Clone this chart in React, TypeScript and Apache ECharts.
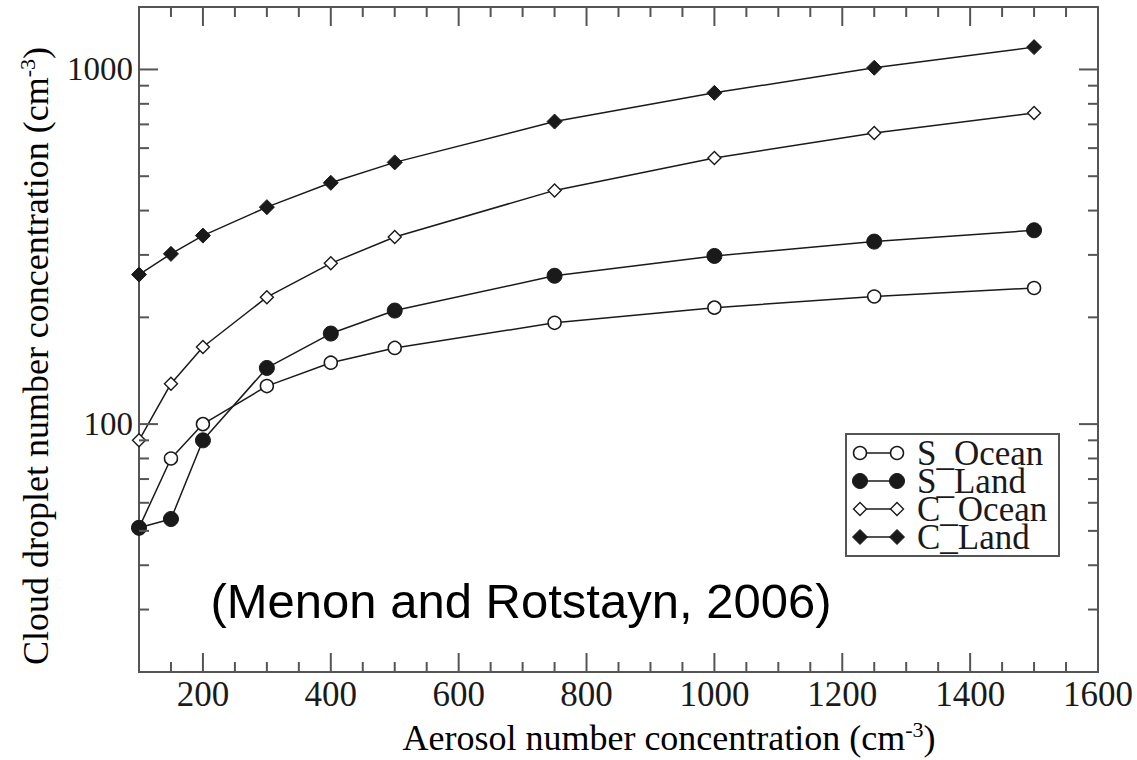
import React, { useEffect, useRef } from "react";
import * as echarts from "echarts";

const xValues = [100, 150, 200, 300, 400, 500, 750, 1000, 1250, 1500];
const sOcean = [51, 80, 100, 128, 149, 164, 193, 213, 229, 242];
const sLand = [51, 54, 90, 144, 180, 209, 262, 298, 327, 352];
const cOcean = [90, 130, 165, 228, 284, 337, 456, 563, 662, 754];
const cLand = [264, 302, 340, 409, 479, 547, 713, 859, 1011, 1156];

const seriesNames = ["S_Ocean", "S_Land", "C_Ocean", "C_Land"];

const xMajorTicks = [200, 400, 600, 800, 1000, 1200, 1400];
const xMinorTicks = [150, 250, 300, 350, 450, 500, 550, 650, 700, 750, 850, 900, 950, 1050, 1100, 1150, 1250, 1300, 1350, 1450, 1500, 1550];
const yMajorTicks = [100, 1000];
const yMinorTicks = [30, 40, 50, 60, 70, 80, 90, 200, 300, 400, 500, 600, 700, 800, 900];
const yTickLabels = [100, 1000];

const X_MIN = 100, X_MAX = 1600, Y_MIN = 20, Y_MAX = 1500;
const FRAME = "#555";
const INK = "#1a1a1a";
const SERIF = "'Liberation Serif', 'DejaVu Serif', serif";

export default function App() {
  const ref = useRef<HTMLDivElement>(null);
  useEffect(() => {
    const chart = echarts.init(ref.current!, null, { renderer: "svg" });

    const tickRender = (isX: boolean) => (params: any, api: any) => {
      const cs = params.coordSys;
      const v = api.value(isX ? 0 : 1);
      const major = api.value(2) === 1;
      const len = major ? 19 : 10;
      const style = { stroke: FRAME, lineWidth: 2 };
      if (isX) {
        const px = api.coord([v, 100])[0];
        return {
          type: "group",
          children: [
            { type: "line", shape: { x1: px, y1: cs.y + cs.height, x2: px, y2: cs.y + cs.height - len }, style },
            { type: "line", shape: { x1: px, y1: cs.y, x2: px, y2: cs.y + len }, style },
          ],
        };
      }
      const py = api.coord([500, v])[1];
      return {
        type: "group",
        children: [
          { type: "line", shape: { x1: cs.x, y1: py, x2: cs.x + len, y2: py }, style },
          { type: "line", shape: { x1: cs.x + cs.width, y1: py, x2: cs.x + cs.width - len, y2: py }, style },
        ],
      };
    };

    const xTickData = [...xMajorTicks.map((v) => [v, 100, 1]), ...xMinorTicks.map((v) => [v, 100, 0])];
    const yTickData = [...yMajorTicks.map((v) => [500, v, 1]), ...yMinorTicks.map((v) => [500, v, 0])];

    const symbolDefs = [
      { symbol: "circle", size: 13, fill: "#fff", border: 1.5 },
      { symbol: "circle", size: 15, fill: INK, border: 1 },
      { symbol: "diamond", size: 13, fill: "#fff", border: 1.4 },
      { symbol: "diamond", size: 15, fill: INK, border: 1 },
    ];
    const allData = [sOcean, sLand, cOcean, cLand];

    const lineSeries = allData.map((vals, i) => ({
      type: "line",
      name: seriesNames[i],
      data: xValues.map((x, j) => [x, vals[j]]),
      symbol: symbolDefs[i].symbol,
      symbolSize: symbolDefs[i].size,
      showAllSymbol: true,
      itemStyle: { color: symbolDefs[i].fill, borderColor: INK, borderWidth: symbolDefs[i].border },
      lineStyle: { color: INK, width: 1.5 },
      z: 3 + i,
    }));

    // legend graphic
    const lgX = 846, lgY = 434, lgW = 213, lgH = 122;
    const rowY = [453, 481, 509, 537];
    const legendChildren: any[] = [
      { type: "rect", shape: { x: lgX, y: lgY, width: lgW, height: lgH }, style: { fill: "#fff", stroke: FRAME, lineWidth: 2 } },
    ];
    seriesNames.forEach((name, i) => {
      const cy = rowY[i];
      const x1 = 860, x2 = 897;
      legendChildren.push({ type: "line", shape: { x1, y1: cy, x2, y2: cy }, style: { stroke: INK, lineWidth: 1.5 } });
      [x1, x2].forEach((cx) => {
        const d = symbolDefs[i];
        if (d.symbol === "circle") {
          legendChildren.push({ type: "circle", shape: { cx, cy, r: d.size / 2 }, style: { fill: d.fill, stroke: INK, lineWidth: d.border } });
        } else {
          const h = d.size / 2;
          legendChildren.push({
            type: "polygon",
            shape: { points: [[cx, cy - h], [cx + h, cy], [cx, cy + h], [cx - h, cy]] },
            style: { fill: d.fill, stroke: INK, lineWidth: d.border },
          });
        }
      });
      legendChildren.push({
        type: "text",
        x: 917,
        y: cy,
        style: { text: name, fontFamily: SERIF, fontSize: 35, lineHeight: 27, fill: INK, align: "left", verticalAlign: "middle" },
      });
    });

    const titleRich = {
      a: { fontSize: 36, fontFamily: SERIF, color: INK, lineHeight: 40 },
      s: { fontSize: 22, fontFamily: SERIF, color: INK, lineHeight: 40, verticalAlign: "top", padding: [0, 0, 0, 0] },
    };

    chart.setOption({
      animation: false,
      grid: { left: 139, top: 7, right: 39, bottom: 88, show: true, borderColor: FRAME, borderWidth: 2, backgroundColor: "transparent", outerBoundsMode: "none", containLabel: false },
      xAxis: {
        type: "value",
        min: X_MIN,
        max: X_MAX,
        interval: 100,
        axisLine: { show: false },
        axisTick: { show: false },
        splitLine: { show: false },
        axisLabel: {
          fontFamily: SERIF,
          fontSize: 35,
          color: INK,
          margin: 5,
          formatter: (v: number) => (v % 200 === 0 ? String(v) : ""),
        },
      },
      yAxis: {
        type: "log",
        logBase: 10,
        min: Y_MIN,
        max: Y_MAX,
        axisLine: { show: false },
        axisTick: { show: false },
        splitLine: { show: false },
        minorTick: { show: false },
        axisLabel: {
          fontFamily: SERIF,
          fontSize: 33,
          color: INK,
          margin: 6,
          showMinLabel: false,
          showMaxLabel: false,
          formatter: (v: number) => {
            const r = Math.round(v);
            return yTickLabels.includes(r) ? String(r) : "";
          },
        },
      },
      series: [
        ...lineSeries,
        { type: "custom", renderItem: tickRender(true), data: xTickData, clip: false, silent: true, z: 10 },
        { type: "custom", renderItem: tickRender(false), data: yTickData, clip: false, silent: true, z: 10 },
      ],
      graphic: [
        { type: "group", children: legendChildren, z: 20 },
        {
          type: "text",
          x: 669,
          y: 738,
          style: { text: "{a|Aerosol number concentration (cm}{s|-3}{a|)}", rich: titleRich, align: "center", verticalAlign: "middle" },
        },
        {
          type: "text",
          x: 36,
          y: 356,
          rotation: Math.PI / 2,
          style: { text: "{a|Cloud droplet number concentration (cm}{s|-3}{a|)}", rich: titleRich, align: "center", verticalAlign: "middle" },
        },
        {
          type: "text",
          x: 521,
          y: 601,
          style: { text: "(Menon and Rotstayn, 2006)", font: "49px 'Liberation Sans', Arial, sans-serif", fill: "#000", align: "center", verticalAlign: "middle" },
          z: 20,
        },
      ],
    });
    return () => chart.dispose();
  }, []);
  return <div ref={ref} style={{ position: "fixed", left: 0, top: 0, width: 1137, height: 760, background: "#fff" }} />;
}
